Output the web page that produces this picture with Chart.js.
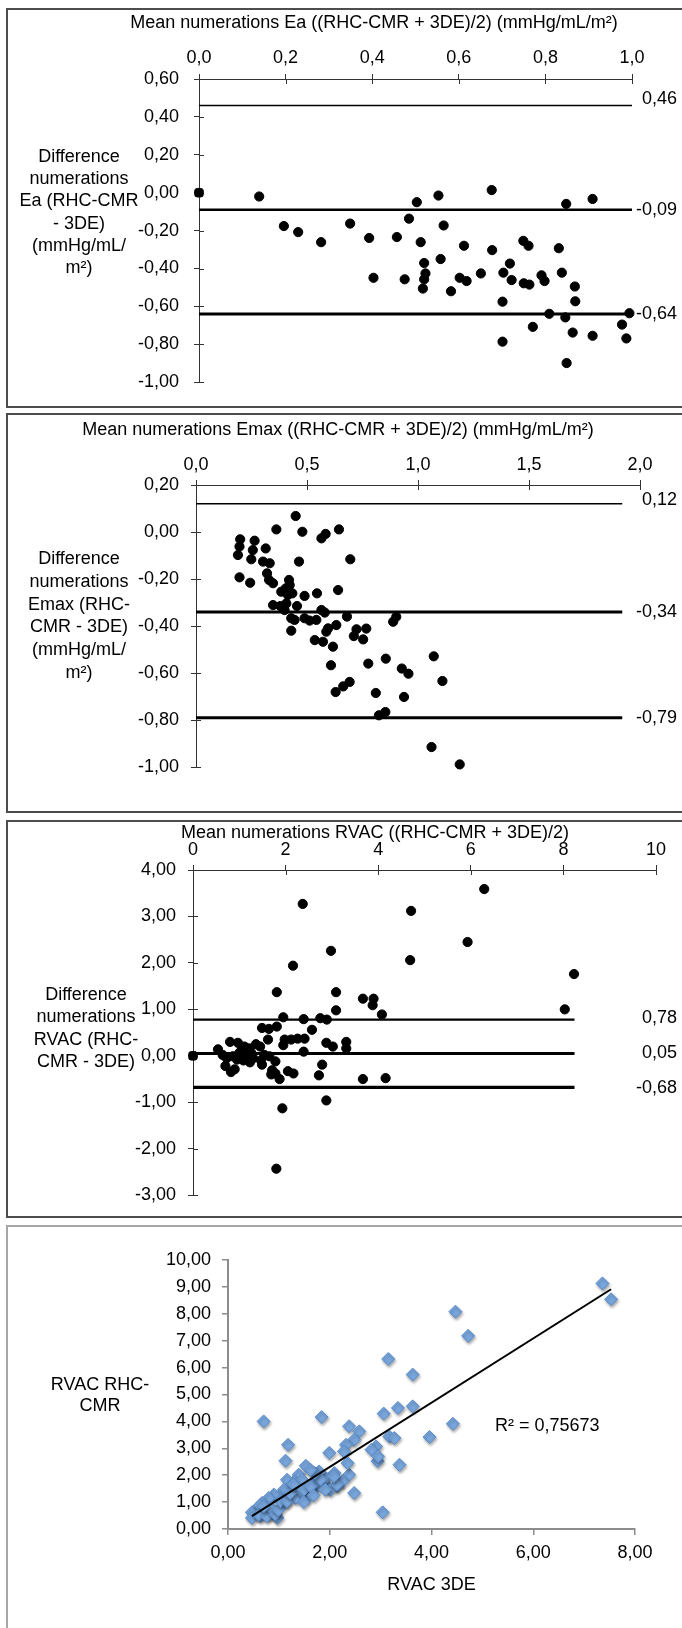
<!DOCTYPE html>
<html>
<head>
<meta charset="utf-8">
<script src="https://cdn.jsdelivr.net/npm/chart.js@4.4.1/dist/chart.umd.min.js"></script>
<style>
  html, body { margin: 0; padding: 0; background: #fff; }
  body { position: relative; width: 682px; height: 1628px; overflow: hidden; }
  .box { position: absolute; left: 6px; width: 720px; box-sizing: border-box; border: 2px solid #4d4d4d; }
  canvas { position: absolute; left: 0; }
</style>
</head>
<body>
<div class="box" style="top:8px;height:400px"></div>
<div class="box" style="top:413px;height:400px"></div>
<div class="box" style="top:820px;height:398px"></div>
<div class="box" style="top:1225px;height:430px;border-color:#a6a6a6"></div>
<canvas id="chartEa" width="682" height="400" style="top:8px"></canvas>
<canvas id="chartEmax" width="682" height="400" style="top:413px"></canvas>
<canvas id="chartRvacBA" width="682" height="398" style="top:820px"></canvas>
<canvas id="chartRvacCorr" width="682" height="403" style="top:1225px"></canvas>
<script>
// Bland-Altman + correlation panels (RHC-CMR vs 3DE)
const FONT = "'Liberation Sans', Arial, sans-serif";

// --- Ea ---
const eaMean = [0.139, 0.196, 0.229, 0.282, 0.349, 0.393, 0.403, 0.457, 0.475, 0.485, 0.503, 0.512, 0.520,
  0.523, 0.520, 0.517, 0.553, 0.558, 0.565, 0.582, 0.602, 0.612, 0.618, 0.651, 0.676, 0.677, 0.701, 0.703,
  0.701, 0.718, 0.722, 0.749, 0.761, 0.750, 0.763, 0.771, 0.791, 0.798, 0.809, 0.831, 0.838, 0.848, 0.846,
  0.849, 0.863, 0.868, 0.869, 0.909, 0.909, 0.977, 0.987, 0.994];
const eaDiff = [-0.02, -0.176, -0.208, -0.261, -0.163, -0.239, -0.449, -0.234, -0.457, -0.137, -0.05, -0.261, -0.371,
  -0.426, -0.457, -0.506, -0.015, -0.35, -0.173, -0.52, -0.449, -0.28, -0.466, -0.426, 0.014, -0.303, -0.575, -0.422,
  -0.786, -0.374, -0.461, -0.254, -0.28, -0.478, -0.485, -0.708, -0.436, -0.466, -0.639, -0.293, -0.422, -0.059, -0.658,
  -0.899, -0.738, -0.495, -0.573, -0.033, -0.755, -0.696, -0.769, -0.636];
const eaLimits = [0.46, -0.09, -0.64];
const eaLineX = [0, 1.0];

// --- Emax ---
const emaxMean = [0.449, 0.362, 0.479, 0.565, 0.584, 0.644, 0.199, 0.196, 0.189, 0.264, 0.256, 0.249, 0.314,
  0.302, 0.332, 0.464, 0.695, 0.196, 0.244, 0.320, 0.329, 0.347, 0.419, 0.422, 0.404, 0.384, 0.414, 0.434,
  0.489, 0.545, 0.640, 0.347, 0.380, 0.407, 0.399, 0.455, 0.429, 0.444, 0.489, 0.512, 0.542, 0.565, 0.580,
  0.680, 0.632, 0.595, 0.429, 0.723, 0.711, 0.753, 0.535, 0.587, 0.572, 0.617, 0.608, 0.629, 0.663, 0.692,
  0.767, 0.776, 0.810, 0.824, 0.853, 0.855, 0.888, 0.902, 0.927, 0.957, 0.937, 1.071, 1.110, 1.061, 1.188];
const emaxDiff = [0.068, 0.011, 0.001, -0.027, -0.008, 0.011, -0.031, -0.062, -0.098, -0.037, -0.077, -0.116, -0.070,
  -0.126, -0.133, -0.126, -0.116, -0.193, -0.216, -0.176, -0.204, -0.218, -0.204, -0.226, -0.240, -0.254, -0.268, -0.261,
  -0.272, -0.261, -0.247, -0.311, -0.315, -0.304, -0.332, -0.315, -0.367, -0.374, -0.367, -0.377, -0.374, -0.332, -0.343,
  -0.360, -0.396, -0.410, -0.420, -0.414, -0.443, -0.457, -0.460, -0.424, -0.467, -0.488, -0.567, -0.681, -0.657, -0.638,
  -0.411, -0.560, -0.685, -0.780, -0.766, -0.539, -0.382, -0.361, -0.581, -0.603, -0.702, -0.529, -0.634, -0.915, -0.989];
const emaxLimits = [0.12, -0.34, -0.79];
const emaxLineX = [0, 1.92];

// --- RVAC Bland-Altman ---
const rvacMean = [1.81, 3.09, 3.67, 3.09, 1.95, 2.39, 2.75, 2.89, 2.57, 1.49, 1.64, 1.81, 1.62, 1.98, 2.12, 2.26,
  2.41, 1.95, 2.88, 3.02, 3.31, 3.31, 2.39, 0.80, 0.97, 1.11, 1.22, 1.36, 1.45, 1.26, 0.54, 0.64, 0.73, 0.86,
  1.00, 1.09, 1.23, 1.47, 1.54, 1.65, 1.78, 0.70, 0.82, 0.90, 1.49, 1.71, 1.78, 1.69, 1.87, 2.05, 2.17, 2.79,
  2.72, 3.67, 2.88, 1.93, 2.37, 6.29, 4.71, 5.93, 2.98, 4.69, 2.16, 8.23, 3.90, 3.88, 4.08, 8.03, 4.16, 1.80,
  1.05, 1.15, 0.95, 1.30];
const rvacDiff = [1.37, 1.37, 1.23, 0.98, 0.83, 0.79, 0.81, 0.78, 0.56, 0.60, 0.58, 0.63, 0.35, 0.35, 0.35, 0.37,
  0.37, 0.23, 0.28, 0.20, 0.30, 0.16, 0.09, 0.30, 0.28, 0.20, 0.16, 0.25, 0.20, 0.06, 0.14, 0.02, -0.05, -0.01,
  0.06, -0.10, -0.14, -0.10, 0.02, -0.01, -0.12, -0.22, -0.35, -0.29, -0.19, -0.31, -0.38, -0.40, -0.50, -0.33, -0.38, -0.19,
  -0.42, -0.50, -0.96, -1.13, 3.27, 3.59, 3.12, 2.45, 2.26, 2.06, 1.94, 1.76, 1.23, 1.09, 0.89, 1.00, -0.48, -2.43,
  0.12, 0.02, -0.08, -0.05];
const rvacLimits = [0.78, 0.05, -0.68];
const rvacLineX = [0, 8.24];

// --- RVAC correlation ---
const rvac3de = [0.70, 1.84, 3.15, 3.63, 3.06, 3.34, 3.63, 1.18, 1.13, 2.38, 2.58, 2.48, 2.32, 2.28, 1.99, 1.53,
  3.17, 3.27, 2.91, 2.94, 3.37, 3.04, 2.48, 2.38, 2.35, 2.25, 2.15, 2.09, 1.95, 1.92, 1.79, 1.72, 1.76, 1.59,
  1.39, 1.30, 1.16, 1.23, 1.33, 1.10, 1.00, 0.90, 0.80, 0.67, 0.54, 0.47, 0.47, 0.64, 0.80, 0.92, 0.97, 1.13,
  1.56, 1.46, 2.01, 1.45, 2.14, 2.82, 2.95, 1.66, 3.96, 4.42, 4.47, 4.72, 7.36, 7.53,
  0.63, 0.60, 0.76, 0.83, 0.93, 0.99, 1.03, 1.16, 1.22, 1.29, 1.49, 1.62, 1.82, 1.91, 2.08, 1.70, 1.62, 0.70,
  1.49, 1.68];
const rvacRhcCmr = [4.00, 4.16, 6.32, 5.74, 4.29, 4.50, 4.56, 3.13, 2.54, 3.82, 3.63, 3.32, 3.13, 2.89, 2.83, 2.35,
  3.44, 3.38, 3.07, 2.52, 2.39, 0.62, 1.34, 2.02, 2.45, 1.77, 1.59, 2.08, 1.59, 1.90, 2.14, 1.77, 1.59, 1.46,
  2.02, 1.77, 1.83, 1.59, 1.15, 1.46, 1.21, 1.28, 1.15, 0.97, 0.72, 0.62, 0.41, 0.47, 0.53, 0.66, 0.41, 0.97,
  1.21, 1.83, 1.45, 1.40, 1.65, 2.95, 2.70, 1.62, 3.42, 3.91, 8.08, 7.18, 9.13, 8.54,
  0.87, 0.53, 0.47, 0.79, 0.54, 0.71, 1.03, 1.03, 1.33, 1.65, 1.46, 1.58, 1.84, 1.46, 1.96, 2.08, 2.20, 0.84,
  1.00, 1.25];
const rSquared = 0.75673;

const comma = (v, d) => (Math.abs(v) < 1e-9 ? 0 : v).toFixed(d).replace('.', ',');

// text drawn horizontally (titles, y axis titles)
const panelText = {
  id: 'panelText',
  afterDraw(chart, args, opts) {
    const ctx = chart.ctx;
    ctx.save();
    ctx.fillStyle = '#000';
    ctx.textBaseline = 'middle';
    ctx.font = '18px ' + FONT;
    (opts.items || []).forEach(it => {
      ctx.textAlign = it.align || 'center';
      it.lines.forEach((t, i) => ctx.fillText(t, it.x, it.y + i * (it.lh || 22)));
    });
    ctx.restore();
  }
};

// value labels at the end of the mean / limit lines
const limitLabels = {
  id: 'limitLabels',
  afterDatasetsDraw(chart, args, opts) {
    if (!opts.values) return;
    const ctx = chart.ctx, y = chart.scales.y;
    ctx.save();
    ctx.font = '18px ' + FONT;
    ctx.fillStyle = '#000';
    ctx.textAlign = 'right';
    ctx.textBaseline = 'middle';
    opts.values.forEach((v, i) => ctx.fillText(comma(v, 2), opts.x, y.getPixelForValue(v) + (opts.dy[i] || 0)));
    ctx.restore();
  }
};

// excel style "cross" tick marks: inner half of each tick
const crossTicks = {
  id: 'crossTicks',
  beforeDatasetsDraw(chart, args, opts) {
    if (!opts.length) return;
    const {ctx, chartArea: a} = chart;
    const xs = chart.scales.x, ys = chart.scales.y;
    ctx.save();
    ctx.strokeStyle = opts.color;
    ctx.lineWidth = 1;
    ctx.beginPath();
    xs.ticks.forEach((t, i) => {
      const px = Math.round(xs.getPixelForTick(i)) + 0.5;
      ctx.moveTo(px, a.top); ctx.lineTo(px, a.top + opts.length);
    });
    ys.ticks.forEach((t, i) => {
      const py = Math.round(ys.getPixelForTick(i)) + 0.5;
      ctx.moveTo(a.left, py); ctx.lineTo(a.left + opts.length, py);
    });
    ctx.stroke();
    ctx.restore();
  }
};

function blandAltman(id, p) {
  const a = p.area;
  const datasets = [{
    data: p.xs.map((x, i) => ({x, y: p.ys[i]})),
    backgroundColor: '#000', borderColor: '#000', pointRadius: 4.6, clip: false
  }];
  if (p.origin) {
    datasets.push({data: [{x: 0, y: 0}], pointStyle: 'rectRounded', pointRadius: 5,
      backgroundColor: '#000', borderColor: '#000', clip: false});
  }
  p.limits.forEach((v, i) => datasets.push({
    type: 'line', data: p.lineX.map(x => ({x, y: v})),
    borderColor: '#000', borderWidth: p.lineWidths[i], pointRadius: 0, clip: false
  }));

  new Chart(document.getElementById(id), {
    type: 'scatter',
    data: {datasets},
    options: {
      responsive: false,
      animation: false,
      events: [],
      layout: {padding: {left: 0, top: 0, right: 682 - a.right, bottom: p.height - a.bottom}},
      plugins: {
        legend: {display: false},
        tooltip: {enabled: false},
        panelText: {items: [
          {lines: [p.title], x: p.titleX, y: p.titleY},
          {lines: p.yTitle, x: p.yTitleX, y: p.yTitleY, lh: p.yTitleLh}
        ]},
        limitLabels: {values: p.limits, x: 677, dy: p.labelDy},
        crossTicks: {length: 5, color: '#333'}
      },
      scales: {
        x: {
          type: 'linear', position: 'top', min: p.xMin, max: p.xMax,
          ticks: {stepSize: p.xStep, padding: p.xPad, color: '#000', font: {family: FONT, size: 18},
            callback: v => p.xDec === 0 ? String(Math.round(v)) : comma(v, p.xDec)},
          grid: {drawOnChartArea: false, tickLength: 5, color: '#333'},
          border: {color: '#333'},
          afterFit: s => { s.height = a.top; }
        },
        y: {
          type: 'linear', position: 'left', min: p.yMin, max: p.yMax,
          ticks: {stepSize: p.yStep, padding: p.yPad, color: '#000', font: {family: FONT, size: 18},
            callback: v => comma(v, 2)},
          grid: {drawOnChartArea: false, tickLength: 5, color: '#333'},
          border: {color: '#333'},
          afterFit: s => { s.width = a.left; }
        }
      }
    },
    plugins: [panelText, limitLabels, crossTicks]
  });
}

blandAltman('chartEa', {
  xs: eaMean, ys: eaDiff, origin: true, limits: eaLimits, lineX: eaLineX, lineWidths: [1.6, 2.6, 3.2],
  height: 400, area: {left: 199, right: 632, top: 71, bottom: 382},
  xMin: 0, xMax: 1, xStep: 0.2, xDec: 1, xPad: 5,
  yMin: -1, yMax: 0.6, yStep: 0.2, yPad: 15,
  title: 'Mean numerations Ea ((RHC-CMR + 3DE)/2) (mmHg/mL/m²)', titleX: 374, titleY: 15,
  yTitle: ['Difference', 'numerations', 'Ea (RHC-CMR', '- 3DE)', '(mmHg/mL/', 'm²)'],
  yTitleX: 79, yTitleY: 149, yTitleLh: 22.2, labelDy: [-6, 0, 0]
});

blandAltman('chartEmax', {
  xs: emaxMean, ys: emaxDiff, origin: false, limits: emaxLimits, lineX: emaxLineX, lineWidths: [1.5, 3, 3],
  height: 400, area: {left: 196, right: 640, top: 72, bottom: 354},
  xMin: 0, xMax: 2, xStep: 0.5, xDec: 1, xPad: 4,
  yMin: -1, yMax: 0.2, yStep: 0.2, yPad: 12,
  title: 'Mean numerations Emax ((RHC-CMR + 3DE)/2) (mmHg/mL/m²)', titleX: 338, titleY: 17,
  yTitle: ['Difference', 'numerations', 'Emax (RHC-', 'CMR - 3DE)', '(mmHg/mL/', 'm²)'],
  yTitleX: 79, yTitleY: 146, yTitleLh: 22.8, labelDy: [-4, 0, 0]
});

blandAltman('chartRvacBA', {
  xs: rvacMean, ys: rvacDiff, origin: true, limits: rvacLimits, lineX: rvacLineX, lineWidths: [2.2, 3, 3.4],
  height: 398, area: {left: 193, right: 656, top: 50, bottom: 379},
  xMin: 0, xMax: 10, xStep: 2, xDec: 0, xPad: 4,
  yMin: -3, yMax: 4, yStep: 1, yPad: 12,
  title: 'Mean numerations RVAC ((RHC-CMR + 3DE)/2)', titleX: 375, titleY: 13,
  yTitle: ['Difference', 'numerations', 'RVAC (RHC-', 'CMR - 3DE)'],
  yTitleX: 86, yTitleY: 175, yTitleLh: 22.3, labelDy: [-2, 0, 1]
});

// --- correlation panel ---
function linFit(xs, ys) {
  const n = xs.length;
  const mx = xs.reduce((s, v) => s + v, 0) / n;
  const my = ys.reduce((s, v) => s + v, 0) / n;
  let sxy = 0, sxx = 0;
  xs.forEach((x, i) => { sxy += (x - mx) * (ys[i] - my); sxx += (x - mx) * (x - mx); });
  const m = sxy / sxx;
  return {m, b: my - m * mx};
}
const fit = linFit(rvac3de, rvacRhcCmr);
const fitX = [Math.min(...rvac3de), Math.max(...rvac3de)];

const markerShadow = {
  id: 'markerShadow',
  beforeDatasetDraw(chart, args) {
    if (args.index !== 1) return;
    const c = chart.ctx;
    c.save();
    c.shadowColor = 'rgba(0,0,0,0.35)';
    c.shadowBlur = 3;
    c.shadowOffsetX = 1;
    c.shadowOffsetY = 2;
  },
  afterDatasetDraw(chart, args) {
    if (args.index === 1) chart.ctx.restore();
  }
};

const corrArea = {left: 228, right: 635, top: 35, bottom: 304};
new Chart(document.getElementById('chartRvacCorr'), {
  type: 'scatter',
  data: {
    datasets: [{
      type: 'line',
      data: fitX.map(x => ({x, y: fit.b + fit.m * x})),
      borderColor: '#000', borderWidth: 2, pointRadius: 0, clip: false
    }, {
      data: rvac3de.map((x, i) => ({x, y: rvacRhcCmr[i]})),
      pointStyle: 'rectRot', pointRadius: 6.5,
      backgroundColor: '#78a6dc', borderColor: '#5a8ccb', borderWidth: 1, clip: false
    }]
  },
  options: {
    responsive: false,
    animation: false,
    events: [],
    layout: {padding: {left: 0, top: corrArea.top, right: 682 - corrArea.right, bottom: 0}},
    plugins: {
      legend: {display: false},
      tooltip: {enabled: false},
      panelText: {items: [
        {lines: ['RVAC RHC-', 'CMR'], x: 100, y: 160, lh: 21},
        {lines: ['R² = ' + comma(rSquared, 5)], x: 495, y: 201, align: 'left'}
      ]}
    },
    scales: {
      x: {
        type: 'linear', position: 'bottom', min: 0, max: 8,
        ticks: {stepSize: 2, padding: 7, color: '#000', font: {family: FONT, size: 18}, callback: v => comma(v, 2)},
        grid: {drawOnChartArea: false, tickLength: 6, color: '#8c8c8c', lineWidth: 1.5},
        border: {color: '#8c8c8c', width: 2},
        title: {display: true, text: 'RVAC 3DE', color: '#000', font: {family: FONT, size: 18}, padding: {top: 0, bottom: 32}},
        afterFit: s => { s.height = 403 - corrArea.bottom; }
      },
      y: {
        type: 'linear', position: 'left', min: 0, max: 10,
        ticks: {stepSize: 1, padding: 11, color: '#000', font: {family: FONT, size: 18}, callback: v => comma(v, 2)},
        grid: {drawOnChartArea: false, tickLength: 6, color: '#8c8c8c', lineWidth: 1.5},
        border: {color: '#8c8c8c', width: 2},
        afterFit: s => { s.width = corrArea.left; }
      }
    }
  },
  plugins: [panelText, markerShadow]
});
</script>
</body>
</html>
